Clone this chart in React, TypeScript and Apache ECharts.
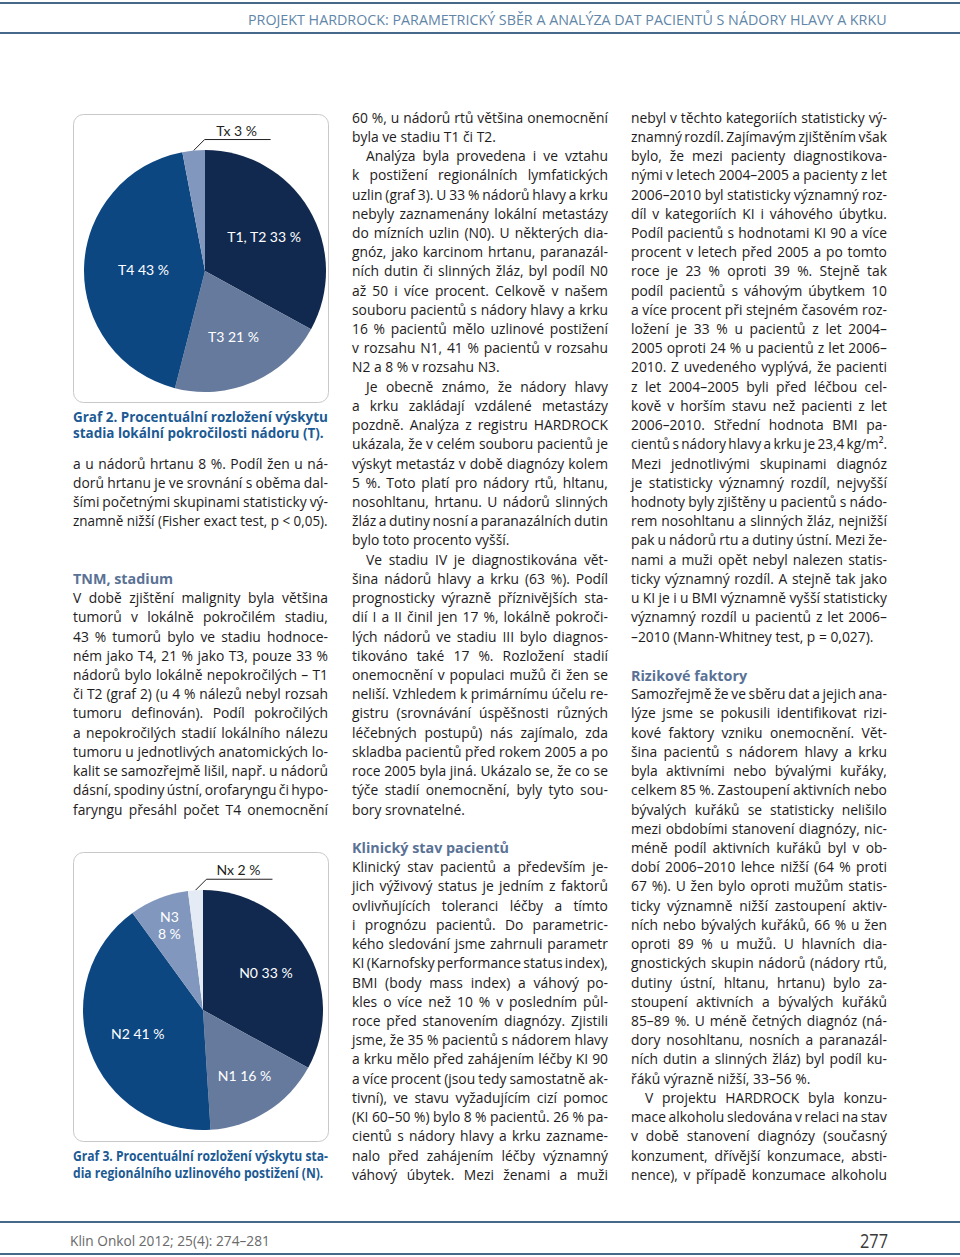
import React, { useEffect, useRef } from "react";
import * as echarts from "echarts";

// ---------- chart data ----------
const tCategories = ["T1, T2", "T3", "T4", "Tx"];
const tValues = [33, 21, 43, 3];
const nCategories = ["N0", "N1", "N2", "N3", "Nx"];
const nValues = [33, 16, 41, 8, 2];

const tColors = ["#12294f", "#667a9d", "#0d4782", "#8197bd"];
const nColors = ["#12294f", "#667a9d", "#0d4782", "#8197bd", "#e4ebf4"];
// radial position of inside labels relative to ECharts default (0.5 r)
const tLabelRadius = [1.08, 1.13, 0.97, 1];
const nLabelRadius = [1.16, 1.23, 1.1, 1.45, 1];

// ---------- page texts ----------
const headerText = "PROJEKT HARDROCK: PARAMETRICKÝ SBĚR A ANALÝZA DAT PACIENTŮ S NÁDORY HLAVY A KRKU";
const footerLeft = "Klin Onkol 2012; 25(4): 274–281";
const pageNumber = "277";
const caption2 = ["Graf 2. Procentuální rozložení výskytu", "stadia lokální pokročilosti nádoru (T).|"];
const caption3 = ["Graf 3. Procentuální rozložení výskytu sta-", "dia regionálního uzlinového postižení (N).|"];

// "## " heading, "> " indented first line, trailing "|" last line of paragraph
const leftColumn = [
  "a u nádorů hrtanu 8 %. Podíl žen u ná-",
  "dorů hrtanu je ve srovnání s oběma dal-",
  "šími početnými skupinami statisticky vý-",
  "znamně nižší (Fisher exact test, p < 0,05).|",
  "",
  "",
  "## TNM, stadium",
  "V době zjištění malignity byla většina",
  "tumorů v lokálně pokročilém stadiu,",
  "43 % tumorů bylo ve stadiu hodnoce-",
  "ném jako T4, 21 % jako T3, pouze 33 %",
  "nádorů bylo lokálně nepokročilých – T1",
  "či T2 (graf 2) (u 4 % nálezů nebyl rozsah",
  "tumoru definován). Podíl pokročilých",
  "a nepokročilých stadií lokálního nálezu",
  "tumoru u jednotlivých anatomických lo-",
  "kalit se samozřejmě lišil, např. u nádorů",
  "dásní, spodiny ústní, orofaryngu či hypo-",
  "faryngu přesáhl počet T4 onemocnění",
];
const middleColumn = [
  "60 %, u nádorů rtů většina onemocnění",
  "byla ve stadiu T1 či T2.|",
  "> Analýza byla provedena i ve vztahu",
  "k postižení regionálních lymfatických",
  "uzlin (graf 3). U 33 % nádorů hlavy a krku",
  "nebyly zaznamenány lokální metastázy",
  "do mízních uzlin (N0). U některých dia-",
  "gnóz, jako karcinom hrtanu, paranazál-",
  "ních dutin či slinných žláz, byl podíl N0",
  "až 50 i více procent. Celkově v našem",
  "souboru pacientů s nádory hlavy a krku",
  "16 % pacientů mělo uzlinové postižení",
  "v rozsahu N1, 41 % pacientů v rozsahu",
  "N2 a 8 % v rozsahu N3.|",
  "> Je obecně známo, že nádory hlavy",
  "a krku zakládají vzdálené metastázy",
  "pozdně. Analýza z registru HARDROCK",
  "ukázala, že v celém souboru pacientů je",
  "výskyt metastáz v době diagnózy kolem",
  "5 %. Toto platí pro nádory rtů, hltanu,",
  "nosohltanu, hrtanu. U nádorů slinných",
  "žláz a dutiny nosní a paranazálních dutin",
  "bylo toto procento vyšší.|",
  "> Ve stadiu IV je diagnostikována vět-",
  "šina nádorů hlavy a krku (63 %). Podíl",
  "prognosticky výrazně příznivějších sta-",
  "dií I a II činil jen 17 %, lokálně pokroči-",
  "lých nádorů ve stadiu III bylo diagnos-",
  "tikováno také 17 %. Rozložení stadií",
  "onemocnění v populaci mužů či žen se",
  "neliší. Vzhledem k primárnímu účelu re-",
  "gistru (srovnávání úspěšnosti různých",
  "léčebných postupů) nás zajímalo, zda",
  "skladba pacientů před rokem 2005 a po",
  "roce 2005 byla jiná. Ukázalo se, že co se",
  "týče stadií onemocnění, byly tyto sou-",
  "bory srovnatelné.|",
  "",
  "## Klinický stav pacientů",
  "Klinický stav pacientů a především je-",
  "jich výživový status je jedním z faktorů",
  "ovlivňujících toleranci léčby a tímto",
  "i prognózu pacientů. Do parametric-",
  "kého sledování jsme zahrnuli parametr",
  "KI (Karnofsky performance status index),",
  "BMI (body mass index) a váhový po-",
  "kles o více než 10 % v posledním půl-",
  "roce před stanovením diagnózy. Zjistili",
  "jsme, že 35 % pacientů s nádorem hlavy",
  "a krku mělo před zahájením léčby KI 90",
  "a více procent (jsou tedy samostatně ak-",
  "tivní), ve stavu vyžadujícím cizí pomoc",
  "(KI 60–50 %) bylo 8 % pacientů. 26 % pa-",
  "cientů s nádory hlavy a krku zazname-",
  "nalo před zahájením léčby významný",
  "váhový úbytek. Mezi ženami a muži",
];
const rightColumn = [
  "nebyl v těchto kategoriích statisticky vý-",
  "znamný rozdíl. Zajímavým zjištěním však",
  "bylo, že mezi pacienty diagnostikova-",
  "nými v letech 2004–2005 a pacienty z let",
  "2006–2010 byl statisticky významný roz-",
  "díl v kategoriích KI i váhového úbytku.",
  "Podíl pacientů s hodnotami KI 90 a více",
  "procent v letech před 2005 a po tomto",
  "roce je 23 % oproti 39 %. Stejně tak",
  "podíl pacientů s váhovým úbytkem 10",
  "a více procent při stejném časovém roz-",
  "ložení je 33 % u pacientů z let 2004–",
  "2005 oproti 24 % u pacientů z let 2006–",
  "2010. Z uvedeného vyplývá, že pacienti",
  "z let 2004–2005 byli před léčbou cel-",
  "kově v horším stavu než pacienti z let",
  "2006–2010. Střední hodnota BMI pa-",
  "cientů s nádory hlavy a krku je 23,4 kg/m².",
  "Mezi jednotlivými skupinami diagnóz",
  "je statisticky významný rozdíl, nejvyšší",
  "hodnoty byly zjištěny u pacientů s nádo-",
  "rem nosohltanu a slinných žláz, nejnižší",
  "pak u nádorů rtu a dutiny ústní. Mezi že-",
  "nami a muži opět nebyl nalezen statis-",
  "ticky významný rozdíl. A stejně tak jako",
  "u KI je i u BMI významně vyšší statisticky",
  "významný rozdíl u pacientů z let 2006–",
  "–2010 (Mann-Whitney test, p = 0,027).|",
  "",
  "## Rizikové faktory",
  "Samozřejmě že ve sběru dat a jejich ana-",
  "lýze jsme se pokusili identifikovat rizi-",
  "kové faktory vzniku onemocnění. Vět-",
  "šina pacientů s nádorem hlavy a krku",
  "byla aktivními nebo bývalými kuřáky,",
  "celkem 85 %. Zastoupení aktivních nebo",
  "bývalých kuřáků se statisticky nelišilo",
  "mezi obdobími stanovení diagnózy, nic-",
  "méně podíl aktivních kuřáků byl v ob-",
  "dobí 2006–2010 lehce nižší (64 % proti",
  "67 %). U žen bylo oproti mužům statis-",
  "ticky významně nižší zastoupení aktiv-",
  "ních nebo bývalých kuřáků, 66 % u žen",
  "oproti 89 % u mužů. U hlavních dia-",
  "gnostických skupin nádorů (nádory rtů,",
  "dutiny ústní, hltanu, hrtanu) bylo za-",
  "stoupení aktivních a bývalých kuřáků",
  "85–89 %. U méně četných diagnóz (ná-",
  "dory nosohltanu, nosních a paranazál-",
  "ních dutin a slinných žláz) byl podíl ku-",
  "řáků výrazně nižší, 33–56 %.|",
  "> V projektu HARDROCK byla konzu-",
  "mace alkoholu sledována v relaci na stav",
  "v době stanovení diagnózy (současný",
  "konzument, dřívější konzumace, absti-",
  "nence), v případě konzumace alkoholu",
];

const FONT = "Open Sans";
const ROW0 = 117;
const ROW = 19.22;
const BODY_SIZE = 14.5;
const BODY_WEIGHT = "500";
const INDENT = 14;
const MIN_GAP = 2.3;

export default function App() {
  const ref = useRef<HTMLDivElement>(null);

  useEffect(() => {
    document.body.style.margin = "0";
    const el = ref.current!;
    const chart = echarts.init(el, null, { renderer: "svg" });
    const ctx = document.createElement("canvas").getContext("2d")!;
    const tw = (t: string, size: number, weight: string) => {
      ctx.font = `${weight} ${size}px "${FONT}"`;
      return ctx.measureText(t).width;
    };

    const els: any[] = [];
    const mk = (t: string, x: number, y: number, s: number, size: number, weight: string, color: string) => ({
      type: "text",
      x,
      y,
      scaleX: s,
      silent: true,
      style: {
        text: t,
        fill: color,
        fontSize: size,
        fontFamily: FONT,
        fontWeight: weight,
        align: "left",
        verticalAlign: "middle",
        textAlign: "left",
        textVerticalAlign: "middle",
      },
    });

    const lineEls = (
      text: string, x: number, y: number, width: number, justify: boolean,
      scale: number, size: number, weight: string, color: string
    ) => {
      if (!justify) {
        const w = tw(text, size, weight);
        const s = w * scale > width ? width / w : scale;
        els.push(mk(text, x, y, s, size, weight, color));
        return;
      }
      const words = text.split(" ");
      const raw = words.map((w) => tw(w, size, weight));
      const sum = raw.reduce((a, b) => a + b, 0);
      const n = words.length;
      let s = scale;
      let gap = n > 1 ? (width - sum * s) / (n - 1) : 0;
      if (n > 1 && gap < MIN_GAP) {
        s = (width - MIN_GAP * (n - 1)) / sum;
        gap = MIN_GAP;
      }
      let cx = x;
      words.forEach((w, i) => {
        els.push(mk(w, cx, y, s, size, weight, color));
        cx += raw[i] * s + gap;
      });
    };

    const parse = (raw: string) => {
      let t = raw;
      let heading = false, indent = 0, justify = true;
      if (t.startsWith("## ")) { heading = true; justify = false; t = t.slice(3); }
      if (t.startsWith("> ")) { indent = INDENT; t = t.slice(2); }
      if (t.endsWith("|")) { justify = false; t = t.slice(0, -1); }
      return { t, heading, indent, justify };
    };

    const columns = [
      { lines: leftColumn, x: 73, w: 255, row0: 18 },
      { lines: middleColumn, x: 352, w: 256, row0: 0 },
      { lines: rightColumn, x: 631, w: 256, row0: 0 },
    ];

    // base horizontal condensing, so that justified lines mostly have natural spacing
    const fits: number[] = [];
    columns.forEach((c) =>
      c.lines.forEach((raw) => {
        if (!raw) return;
        const p = parse(raw);
        if (p.justify) fits.push((c.w - p.indent) / tw(p.t, BODY_SIZE, BODY_WEIGHT));
      })
    );
    fits.sort((a, b) => a - b);
    const base = fits[Math.floor(fits.length * 0.2)];

    columns.forEach((c) =>
      c.lines.forEach((raw, k) => {
        if (!raw) return;
        const p = parse(raw);
        const y = ROW0 + (c.row0 + k) * ROW;
        if (p.heading) {
          lineEls(p.t, c.x, y, c.w, false, base, 15, "bold", "#5a7295");
        } else {
          lineEls(p.t, c.x + p.indent, y, c.w - p.indent, p.justify, base, BODY_SIZE, BODY_WEIGHT, "#1e1b1c");
        }
      })
    );

    // captions
    const capEls = (lines: string[], x: number, y0: number, dy: number, w: number) => {
      const first = parse(lines[0]).t;
      const s = w / tw(first, 14.5, "bold");
      lines.forEach((raw, i) => {
        const p = parse(raw);
        lineEls(p.t, x, y0 + i * dy, w, p.justify, s, 14.5, "bold", "#1c5a94");
      });
    };
    capEls(caption2, 73, 416, 16.5, 255);
    capEls(caption3, 73, 1156, 17, 255);

    // header / footer texts fitted to their measured extents
    const fit = (t: string, x0: number, x1: number, y: number, size: number, color: string, weight = "normal") => {
      const s = (x1 - x0) / tw(t, size, weight);
      els.push(mk(t, x0, y, s, size, weight, color));
    };
    fit(headerText, 248, 887, 19, 15, "#5f86a8");
    fit(footerLeft, 70, 270, 1240, 14, "#6a6a6a");
    fit(pageNumber, 860, 888, 1240, 20, "#3a3a3a", "500");

    const rule = (y: number) => ({
      type: "line",
      silent: true,
      shape: { x1: 0, y1: y, x2: 960, y2: y },
      style: { stroke: "#46698a", lineWidth: 2 },
    });
    els.push(rule(3), rule(33), rule(1222), rule(1254));

    // pie frames
    els.push({
      type: "rect", silent: true, z: -1,
      shape: { x: 73.5, y: 114.5, width: 255, height: 288, r: 10 },
      style: { fill: "none", stroke: "#c8c8c8", lineWidth: 1 },
    });
    els.push({
      type: "rect", silent: true, z: -1,
      shape: { x: 73.5, y: 852.5, width: 255, height: 289, r: 10 },
      style: { fill: "none", stroke: "#c8c8c8", lineWidth: 1 },
    });

    const pieSeries = (
      cats: string[], vals: number[], colors: string[], radii: number[],
      center: number[], r: number, outsideIdx: number
    ) => {
      const total = vals.reduce((a, b) => a + b, 0);
      return {
        type: "pie",
        center,
        radius: [0, r],
        startAngle: 90,
        clockwise: true,
        avoidLabelOverlap: false,
        minShowLabelAngle: 0,
        silent: true,
        itemStyle: { borderWidth: 0 },
        label: {
          show: true,
          position: "inside",
          color: "#ffffff",
          fontFamily: "Lato",
          fontSize: 14,
          lineHeight: 17,
          align: "center",
          formatter: (p: any) => (p.name === "N3" ? `${p.name}\n${p.value} %` : `${p.name} ${p.value} %`),
        },
        labelLine: { show: false, lineStyle: { color: "#231f20", width: 1 } },
        data: cats.map((c, i) => ({
          name: c,
          value: vals[i],
          itemStyle: { color: colors[i] },
          ...(i === outsideIdx
            ? {
                label: { position: "outside", color: "#231f20" },
                labelLine: { show: true, length: 12, length2: 60, lineStyle: { color: "#231f20", width: 1 } },
              }
            : {}),
        })),
        labelLayout: (p: any) => {
          const i = p.dataIndex;
          if (i === outsideIdx) {
            let e = p.labelLinePoints && p.labelLinePoints[0];
            if (!e) {
              let before = 0;
              for (let k = 0; k < i; k++) before += vals[k];
              const th = ((before + vals[i] / 2) / total) * Math.PI * 2;
              e = [center[0] + r * Math.sin(th), center[1] - r * Math.cos(th)];
            }
            const bx = e[0] + 11;
            const by = e[1] - 11;
            return {
              x: bx + 32,
              y: by - 1,
              align: "center",
              verticalAlign: "bottom",
              labelLinePoints: [[e[0], e[1]], [bx, by], [bx + 66, by]],
            };
          }
          const lr = p.labelRect;
          const lx = lr.x + lr.width / 2;
          const ly = lr.y + lr.height / 2;
          const f = radii[i] - 1;
          return { dx: (lx - center[0]) * f, dy: (ly - center[1]) * f };
        },
      };
    };

    chart.setOption({
      animation: false,
      backgroundColor: "#ffffff",
      series: [
        pieSeries(tCategories, tValues, tColors, tLabelRadius, [205, 271], 121, 3),
        pieSeries(nCategories, nValues, nColors, nLabelRadius, [203, 1010], 120, 4),
      ],
      graphic: { elements: els },
    });

    return () => chart.dispose();
  }, []);

  return (
    <div
      ref={ref}
      style={{ position: "absolute", left: 0, top: 0, width: 960, height: 1257, background: "#fff" }}
    />
  );
}
